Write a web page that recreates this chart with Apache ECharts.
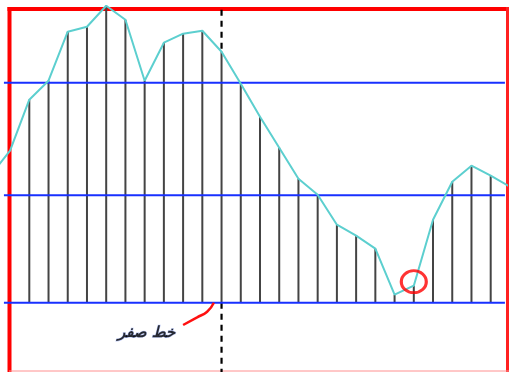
<!DOCTYPE html>
<html>
<head>
<meta charset="UTF-8">
<title>zero_line</title>
<script src="https://cdn.jsdelivr.net/npm/echarts@6/dist/echarts.min.js"></script>
<style>
  html, body { margin: 0; padding: 0; background: #fff; }
  #main { width: 510px; height: 372px; }
</style>
</head>
<body>
<div id="main"></div>
<script type="text/javascript">
// sample index (one per vertical line), -2 and -1 / 25 run past the frame
var steps = [-2, -1, 0, 1, 2, 3, 4, 5, 6, 7, 8, 9, 10, 11, 12, 13, 14, 15, 16, 17, 18, 19, 20, 21, 22, 23, 24, 25];
// curve height above the zero line
var curve = [128, 152, 203, 222, 271, 276, 297, 283, 222, 260, 269, 272, 251, 219, 186, 155, 124, 108, 78, 67, 54, 8, 17, 83, 121, 137, 127, 116];
// horizontal reference lines (zero line first)
var levels = [0, 107.4, 220];
var levelFrom = -1.32, levelTo = 24.74;
// dashed marker
var dashAt = 10;
var dashTop = 293, dashBottom = -70;
// circled point
var circleAt = [20, 21];
// label "zero line" and its pointer
var labelText = 'خط صفر';
var labelAt = [6.1, -30];
var pointerX = [8.0, 8.73, 9.25, 9.6];
var pointerY = [-22.3, -14.6, -9, 0];

var curveData = [], stemData = [];
for (var i = 0; i < steps.length; i++) {
  curveData.push([steps[i], curve[i]]);
  if (steps[i] >= 0 && steps[i] <= 24) stemData.push([steps[i], curve[i]]);
}
var pointerData = [];
for (var j = 0; j < pointerX.length; j++) pointerData.push([pointerX[j], pointerY[j]]);

// dashed marker is hidden behind its stem, so draw it above the curve and below zero only
var dashCurve = curve[steps.indexOf(dashAt)];
var dashData = [[dashAt, dashTop], [dashAt, dashCurve], [dashAt, '-'], [dashAt, levels[0]], [dashAt, dashBottom]];

var levelSeries = levels.map(function (lv) {
  return {
    type: 'line',
    data: [[levelFrom, lv], [levelTo, lv]],
    symbol: 'none',
    silent: true,
    z: 4,
    lineStyle: { color: '#1830ff', width: 2 }
  };
});

var myChart = echarts.init(document.getElementById('main'));

option = {
  animation: false,
  backgroundColor: '#ffffff',
  grid: { left: 0, top: 0, right: 3, bottom: 0 },
  xAxis: { type: 'value', min: -1.524, max: 24.848, show: false },
  yAxis: { type: 'value', min: -69.3, max: 302.7, show: false },
  graphic: [
    { type: 'line', z: 1, shape: { x1: 9.5, y1: 7, x2: 9.5, y2: 372 }, style: { stroke: '#ff0000', lineWidth: 4 } },
    { type: 'line', z: 1, shape: { x1: 7.5, y1: 9, x2: 509, y2: 9 }, style: { stroke: '#ff0000', lineWidth: 4 } },
    { type: 'line', z: 1, shape: { x1: 507.5, y1: 7, x2: 507.5, y2: 372 }, style: { stroke: '#ff2020', lineWidth: 3 } },
    { type: 'line', z: 1, shape: { x1: 9, y1: 371, x2: 509, y2: 371 }, style: { stroke: '#ff9090', lineWidth: 1 } }
  ],
  series: [
    {
      type: 'line',
      data: dashData,
      symbol: 'none',
      connectNulls: false,
      z: 2,
      lineStyle: { color: '#000000', width: 2.2, type: [6, 5] }
    },
    {
      type: 'bar',
      data: stemData,
      barWidth: 2,
      z: 3,
      itemStyle: { color: '#444444' }
    }
  ].concat(levelSeries).concat([
    {
      type: 'line',
      data: curveData,
      symbol: 'none',
      z: 5,
      lineStyle: { color: '#5ccfcf', width: 2 }
    },
    {
      type: 'scatter',
      data: [circleAt],
      symbol: 'circle',
      symbolSize: [25, 22],
      z: 6,
      itemStyle: { color: 'rgba(0,0,0,0)', borderColor: '#ff0000', borderWidth: 3 }
    },
    {
      type: 'line',
      data: pointerData,
      symbol: 'none',
      smooth: true,
      z: 6,
      lineStyle: { color: '#ff1010', width: 2.5 }
    },
    {
      type: 'scatter',
      data: [labelAt],
      symbolSize: 0,
      z: 6,
      label: {
        show: true,
        position: 'inside',
        formatter: labelText,
        color: '#000000',
        fontFamily: 'DejaVu Sans',
        fontWeight: 'bold',
        fontStyle: 'italic',
        fontSize: 15,
        textBorderColor: 'rgba(40,80,220,0.4)',
        textBorderWidth: 1
      }
    }
  ])
};
myChart.setOption(option);
</script>
</body>
</html>
